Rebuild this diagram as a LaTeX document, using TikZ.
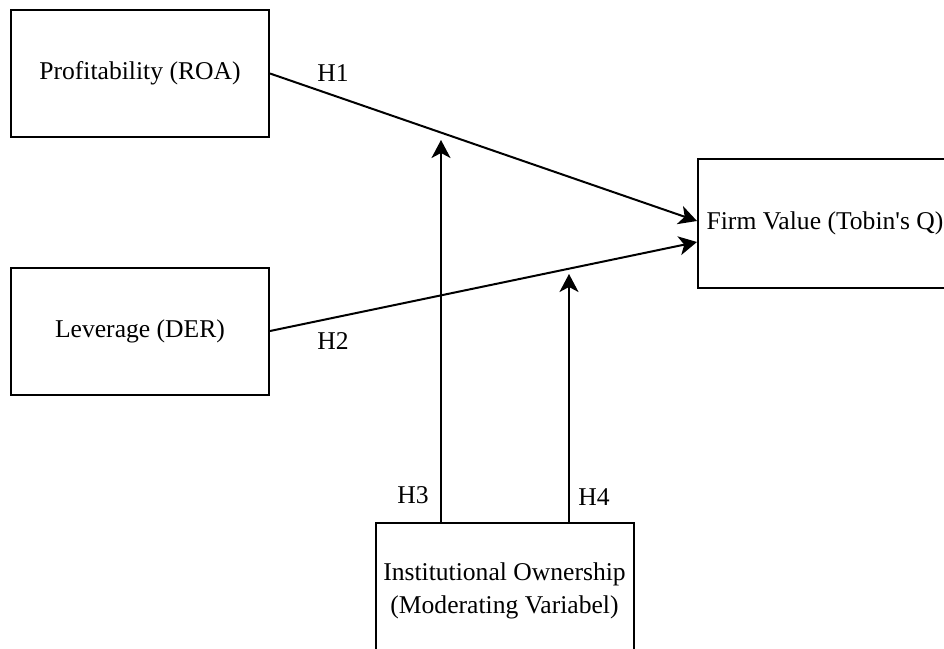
\documentclass[tikz,border=0pt]{standalone}
\usepackage{fontspec}
\setmainfont{Liberation Serif}
\usetikzlibrary{arrows.meta,calc}

\begin{document}
\begin{tikzpicture}[x=0.5pt, y=-0.5pt,
  every node/.style={font=\fontsize{12.8}{16.5}\selectfont},
  box/.style={draw, line width=1pt, minimum width=129pt, minimum height=63.5pt, inner sep=0pt, align=center},
  link/.style={line width=1pt, -{Stealth[length=9pt,width=9.5pt,inset=2.5pt]}}]
  \useasboundingbox (0,0) rectangle (944,649);
  % variables
  \node[box] (prof) at (140,73.5) {Profitability (ROA)};
  \node[box] (lev)  at (140,331)  {Leverage (DER)};
  \node[box, minimum width=127pt, minimum height=64.5pt] (firm) at (825,223.5) {Firm Value (Tobin\textquotesingle s Q)};
  \node[box, minimum height=68pt] (inst) at (504.5,591) {Institutional Ownership\\(Moderating Variabel)};
  % direct effects
  \draw[link] (prof.east) -- ($(firm.west)+(0,-2.5)$);
  \draw[link] (lev.east)  -- ($(firm.west)+(0,18.5)$);
  % moderation
  \coordinate (m1) at (441,140);
  \coordinate (m2) at (569,274);
  \draw[link] (inst.north -| m1) -- (m1);
  \draw[link] (inst.north -| m2) -- (m2);
  \node (h1) at (333,73)  {H1};
  \node (h2) at (333,341) {H2};
  \node (h3) at (413,495) {H3};
  \node (h4) at (594,497) {H4};
\end{tikzpicture}
\end{document}
